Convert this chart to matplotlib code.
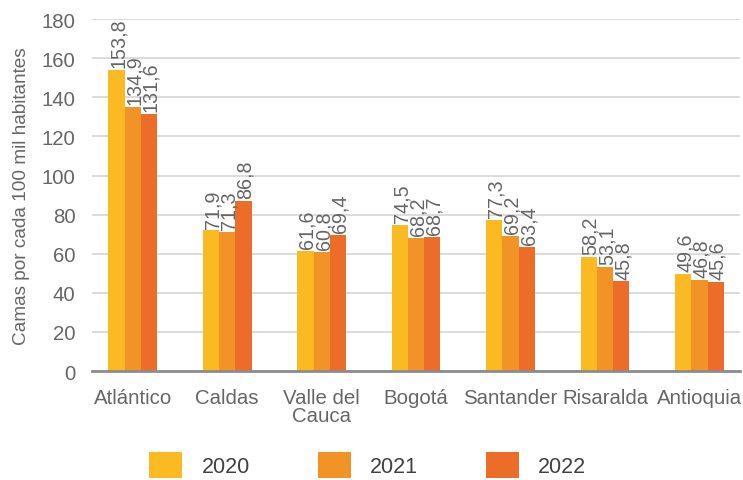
import matplotlib.pyplot as plt
import numpy as np
from matplotlib.patches import Patch

plt.rcParams['font.family'] = ['Liberation Sans', 'DejaVu Sans']

categories = ["Atlántico", "Caldas", "Valle del\nCauca", "Bogotá", "Santander", "Risaralda", "Antioquia"]
years = ["2020", "2021", "2022"]
v2020 = [153.8, 71.9, 61.6, 74.5, 77.3, 58.2, 49.6]
v2021 = [134.9, 71.3, 60.8, 68.2, 69.2, 53.1, 46.8]
v2022 = [131.6, 86.8, 69.4, 68.7, 63.4, 45.8, 45.6]
colors = ["#FBBA22", "#F29328", "#EC6C2A"]

text_color = "#666666"

fig = plt.figure(figsize=(7.43, 4.81), dpi=100)
ax = fig.add_axes([0.124, 0.2266, 0.872, 0.7314])

x = np.arange(len(categories))
w = 0.172
for i, (vals, col) in enumerate(zip([v2020, v2021, v2022], colors)):
    pos = x + (i - 1) * w
    ax.bar(pos, vals, width=w, color=col, zorder=3)
    # value labels, comma decimal separator
    for px, v in zip(pos, vals):
        ax.text(px + 0.02, v + 1.5, f"{v:.1f}".replace(".", ","), rotation=90,
                ha="center", va="bottom", fontsize=14.2, color=text_color, zorder=4)

ax.set_xlim(-0.43, 6.43)
ax.set_ylim(0, 180)
ax.set_yticks(np.arange(0, 181, 20))
ax.set_xticks(x)
ax.set_xticklabels(categories, linespacing=0.95)
ax.tick_params(axis="both", length=0, labelsize=14.7, colors=text_color)
ax.tick_params(axis="x", pad=12)
ax.tick_params(axis="y", pad=12)
ax.grid(axis="y", color="#d9d9d9", linewidth=1.3, zorder=0)
for s in ["top", "right", "left"]:
    ax.spines[s].set_visible(False)
ax.spines["bottom"].set_color("#8c8c8c")
ax.spines["bottom"].set_linewidth(2)
ax.spines["bottom"].set_zorder(5)

ax.set_ylabel("Camas por cada 100 mil habitantes", fontsize=13.7, color=text_color, labelpad=8)

handles = [Patch(facecolor=c, edgecolor="none") for c in colors]
fig.legend(handles, years, loc="center", bbox_to_anchor=(0.495, 0.031), ncol=3,
           frameon=False, fontsize=15.5, handlelength=1.53, handleheight=1.53,
           handletextpad=0.9, columnspacing=3.15, labelcolor="#404040")

fig.savefig("out.png", dpi=100)
